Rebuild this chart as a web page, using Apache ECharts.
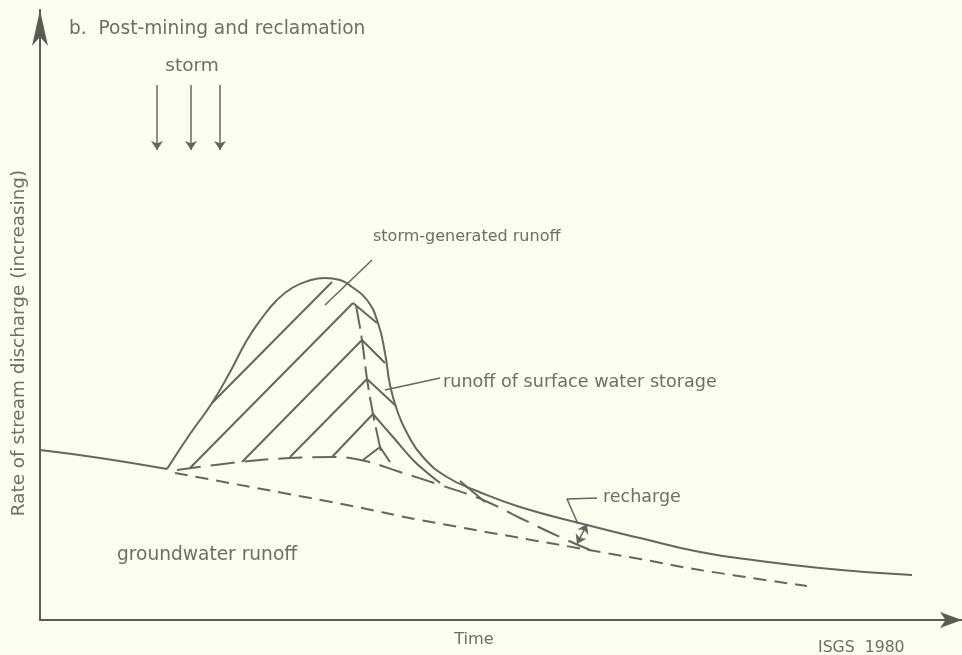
<!DOCTYPE html>
<html>
<head>
<meta charset="utf-8">
<script src="https://cdn.jsdelivr.net/npm/echarts@6/dist/echarts.min.js"></script>
<style>
  html, body { margin: 0; padding: 0; background: #fcfdef; }
  #chart { width: 962px; height: 655px; }
</style>
</head>
<body>
<div id="chart"></div>
<script>
// time runs along x, discharge (increasing) up y; no real units on this sketch
const preStorm = [[0, 170], [60, 162], [127, 151]];
const hydrograph = [[127, 151], [150, 186], [172, 217], [190, 248], [207, 280],
  [222, 302], [237, 320], [252, 332], [268, 339], [285, 342], [300, 340], [312, 333],
  [327, 320], [338, 297], [345, 267], [350, 235], [357, 210], [367, 187], [383, 163],
  [407, 143], [437, 129], [480, 113], [547, 95], [600, 82], [660, 68], [720, 59],
  [780, 52], [840, 47], [872, 45]];
// groundwater runoff (short dashes)
const groundwater = [[135, 147], [307, 115], [380, 100], [600, 61], [660, 50], [767, 34]];
// base of storm-generated runoff (medium dashes)
const stormBase = [[137, 150], [200, 158], [250, 162], [293, 163], [325, 159], [360, 148],
  [400, 135], [443, 120], [480, 102], [520, 83], [550, 70]];
// divide between storm runoff and surface water storage (long dashes)
const storageDivide = [[316, 315], [322, 280], [327, 241], [333, 206], [340, 173], [342, 162]];
const storageInner = [[333, 206], [353, 183], [375, 158], [400, 137]];
// hatching
const hatchSegments = [
  [[172, 217], [292, 338]],
  [[150, 152], [313, 317]],
  [[202, 158], [322, 280]],
  [[250, 163], [327, 241]],
  [[292, 163], [333, 206]],
  [[323, 160], [340, 173]],
  [[313, 317], [337, 297]],
  [[322, 280], [345, 257]],
  [[327, 241], [356, 214]],
  [[340, 173], [350, 158]],
  [[420, 139], [445, 118]]
];
const leaderSegments = [
  [[332, 360], [285, 315]],
  [[400, 242], [345, 230]],
  [[557, 122], [527, 121], [538, 96]]
];
const stormArrowX = [117, 151, 180];
const stormArrowY = [535, 470];
const recharge = [[537, 76], [547, 96]];

const ink = '#66665e';
const textInk = '#6e6e66';
const font = '"DejaVu Sans", "Open Sans", sans-serif';

function withBreaks(segs) {
  const out = [];
  segs.forEach(function (s, i) {
    if (i > 0) out.push(null);
    s.forEach(function (p) { out.push(p); });
  });
  return out;
}

function lineSeries(name, data, type, smooth) {
  return {
    name: name,
    type: 'line',
    data: data,
    smooth: smooth,
    symbol: 'none',
    silent: true,
    connectNulls: false,
    lineStyle: { color: ink, width: 2, type: type }
  };
}

const chart = echarts.init(document.getElementById('chart'));

const stormLines = stormArrowX.map(function (x) {
  return [{ coord: [x, stormArrowY[0]] }, { coord: [x, stormArrowY[1]] }];
});

function label(text, x, y, size, align) {
  return {
    type: 'text', x: x, y: y,
    style: { text: text, font: size + 'px ' + font, fill: textInk, textAlign: align || 'left', textVerticalAlign: 'middle' }
  };
}

const yName = label('Rate of stream discharge (increasing)', 19, 343, 18.4, 'center');
yName.rotation = Math.PI / 2;

const option = {
  backgroundColor: '#fcfdef',
  animation: false,
  grid: { left: 40, right: 0, top: 10, bottom: 35 },
  xAxis: {
    type: 'value', min: 0, max: 922,
    axisLine: {
      show: true, symbol: ['none', 'arrow'], symbolSize: [12, 22],
      lineStyle: { color: '#5c5c55', width: 2 }
    },
    axisTick: { show: false }, axisLabel: { show: false }, splitLine: { show: false }
  },
  yAxis: {
    type: 'value', min: 0, max: 610,
    axisLine: {
      show: true, symbol: ['none', 'arrow'], symbolSize: [12, 36],
      lineStyle: { color: '#5c5c55', width: 2 }
    },
    axisTick: { show: false }, axisLabel: { show: false }, splitLine: { show: false }
  },
  series: [
    lineSeries('pre-storm', preStorm, 'solid', 0.5),
    lineSeries('hydrograph', hydrograph, 'solid', 0.5),
    lineSeries('groundwater', groundwater, [13, 8], 0.4),
    lineSeries('storm base', stormBase, [24, 10], 0.4),
    lineSeries('divide', storageDivide, [24, 7], 0.3),
    lineSeries('inner', storageInner, 'solid', 0.3),
    lineSeries('hatch', withBreaks(hatchSegments), 'solid', false),
    Object.assign(lineSeries('leaders', withBreaks(leaderSegments), 'solid', false), {
      lineStyle: { color: ink, width: 1.5 },
      markLine: {
        silent: true,
        symbol: ['none', 'arrow'],
        symbolSize: 9,
        label: { show: false },
        lineStyle: { color: ink, width: 1.5, type: 'solid' },
        data: stormLines.concat([[
          { coord: recharge[0], symbol: 'arrow' },
          { coord: recharge[1] }
        ]])
      }
    })
  ],
  graphic: [
    label('b.  Post-mining and reclamation', 69, 29, 18.6),
    label('storm', 192, 66, 18.5, 'center'),
    yName,
    label('storm-generated runoff', 373, 237, 16),
    label('runoff of surface water storage', 443, 382, 17.6),
    label('recharge', 603, 497, 17.5),
    label('groundwater runoff', 117, 555, 18.6),
    label('Time', 474, 640, 16.2, 'center'),
    label('ISGS  1980', 818, 648, 15.7)
  ]
};

chart.setOption(option);
</script>
</body>
</html>
